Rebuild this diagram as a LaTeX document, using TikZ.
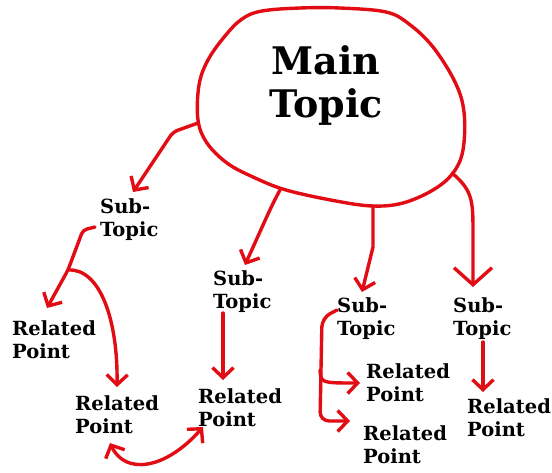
\documentclass[tikz,border=0pt]{standalone}
\usepackage{fontspec}
\setmainfont{DejaVu Serif}
\usetikzlibrary{arrows.meta,calc}
\definecolor{pen}{RGB}{226,12,20}
\begin{document}
\begin{tikzpicture}[x=1pt,y=-1pt,
  lbl/.style={inner sep=0pt,anchor=north west,align=left,font=\bfseries\fontsize{19.5}{23.5}\selectfont},
  mainlbl/.style={inner sep=0pt,anchor=north,align=center,font=\bfseries\fontsize{38}{43}\selectfont},
  ink/.style={draw=pen,line width=3.4pt,line cap=round,line join=round},
  tip/.style={Straight Barb[length=10pt,width=21pt,line width=3.4pt]},
  bigtip/.style={Straight Barb[length=17pt,width=38pt,line width=3.4pt]},
  arr/.style={ink,-{Straight Barb[length=10pt,width=21pt,line width=3.4pt]}},
  bigarr/.style={ink,-{Straight Barb[length=17pt,width=38pt,line width=3.4pt]}},
  darr/.style={ink,{Straight Barb[length=10pt,width=21pt,line width=3.4pt]}-{Straight Barb[length=10pt,width=21pt,line width=3.4pt]}}]
\useasboundingbox (0,0) rectangle (552,472);
% blob
\draw[ink] plot[smooth cycle,tension=0.6] coordinates {(262,11) (300,8) (340,8) (386,12) (409,24) (433,47) (455,82) (464,112) (463,150) (453,173) (433,190) (403,203) (373,206) (336,201) (286,190) (253,177) (227,163) (207,143) (198,120) (199,85) (208,60) (225,36) (242,19)};
\coordinate (j1) at (198,123);
\coordinate (j2) at (280,190);
\coordinate (j3) at (373,206);
\coordinate (j4) at (452,173);
\node[mainlbl] (main) at (326,45) {Main\\Topic};
% labels
\node[lbl] (st1) at (100,198) {Sub-\\Topic};
\node[lbl] (st2) at (213,270) {Sub-\\Topic};
\node[lbl] (st3) at (337,297) {Sub-\\Topic};
\node[lbl] (st4) at (453,297) {Sub-\\Topic};
\node[lbl] (rp1) at (12,320) {Related\\Point};
\node[lbl] (rp2) at (75,395) {Related\\Point};
\node[lbl] (rp3) at (198,388) {Related\\Point};
\node[lbl] (rp4) at (366,363) {Related\\Point};
\node[lbl] (rp5) at (363,425) {Related\\Point};
\node[lbl] (rp6) at (467,398) {Related\\Point};
% main arrows
\draw[arr,rounded corners=5pt] (j1) -- (173,132) -- (163,147) -- ($(st1.north west)+(33,-6)$);
\draw[arr] (j2) .. controls (272,205) .. ($(st2.north west)+(32,-5)$);
\draw[arr] (j3) -- (373,247) -- ($(st3.north west)+(25,-5)$);
\draw[bigarr] (j4) .. controls (472,190) and (473,200) .. (473,230) -- ($(st4.north west)+(20,-10)$);
% sub arrows
\coordinate (b1) at (68,270);
\draw[arr,rounded corners=4pt] ($(st1.north west)+(-5,29)$) -- (83,230) -- (b1) -- ($(rp1.north west)+(35,-12)$);
\draw[arr] (b1) .. controls (100,268) and (118,320) .. ($(rp2.north west)+(42,-8)$);
\draw[darr] ($(rp2.north west)+(35,48)$) .. controls (125,475) and (165,470) .. ($(rp3.north west)+(5,39)$);
\draw[arr] ($(st2.north west)+(10,43)$) -- ($(rp3.north west)+(25,-8)$);
\coordinate (b3) at (320,370);
\draw[arr,rounded corners=9pt] ($(st3.north west)+(0,13)$) -- (322,318) -- (320,421) -- ($(rp5.north west)+(-13,-4)$);
\draw[arr] (b3) .. controls (321,383) .. ($(rp4.north west)+(-6,20)$);
\draw[arr] ($(st4.north west)+(30,45)$) -- ($(rp6.north west)+(16,-6)$);
\end{tikzpicture}
\end{document}
